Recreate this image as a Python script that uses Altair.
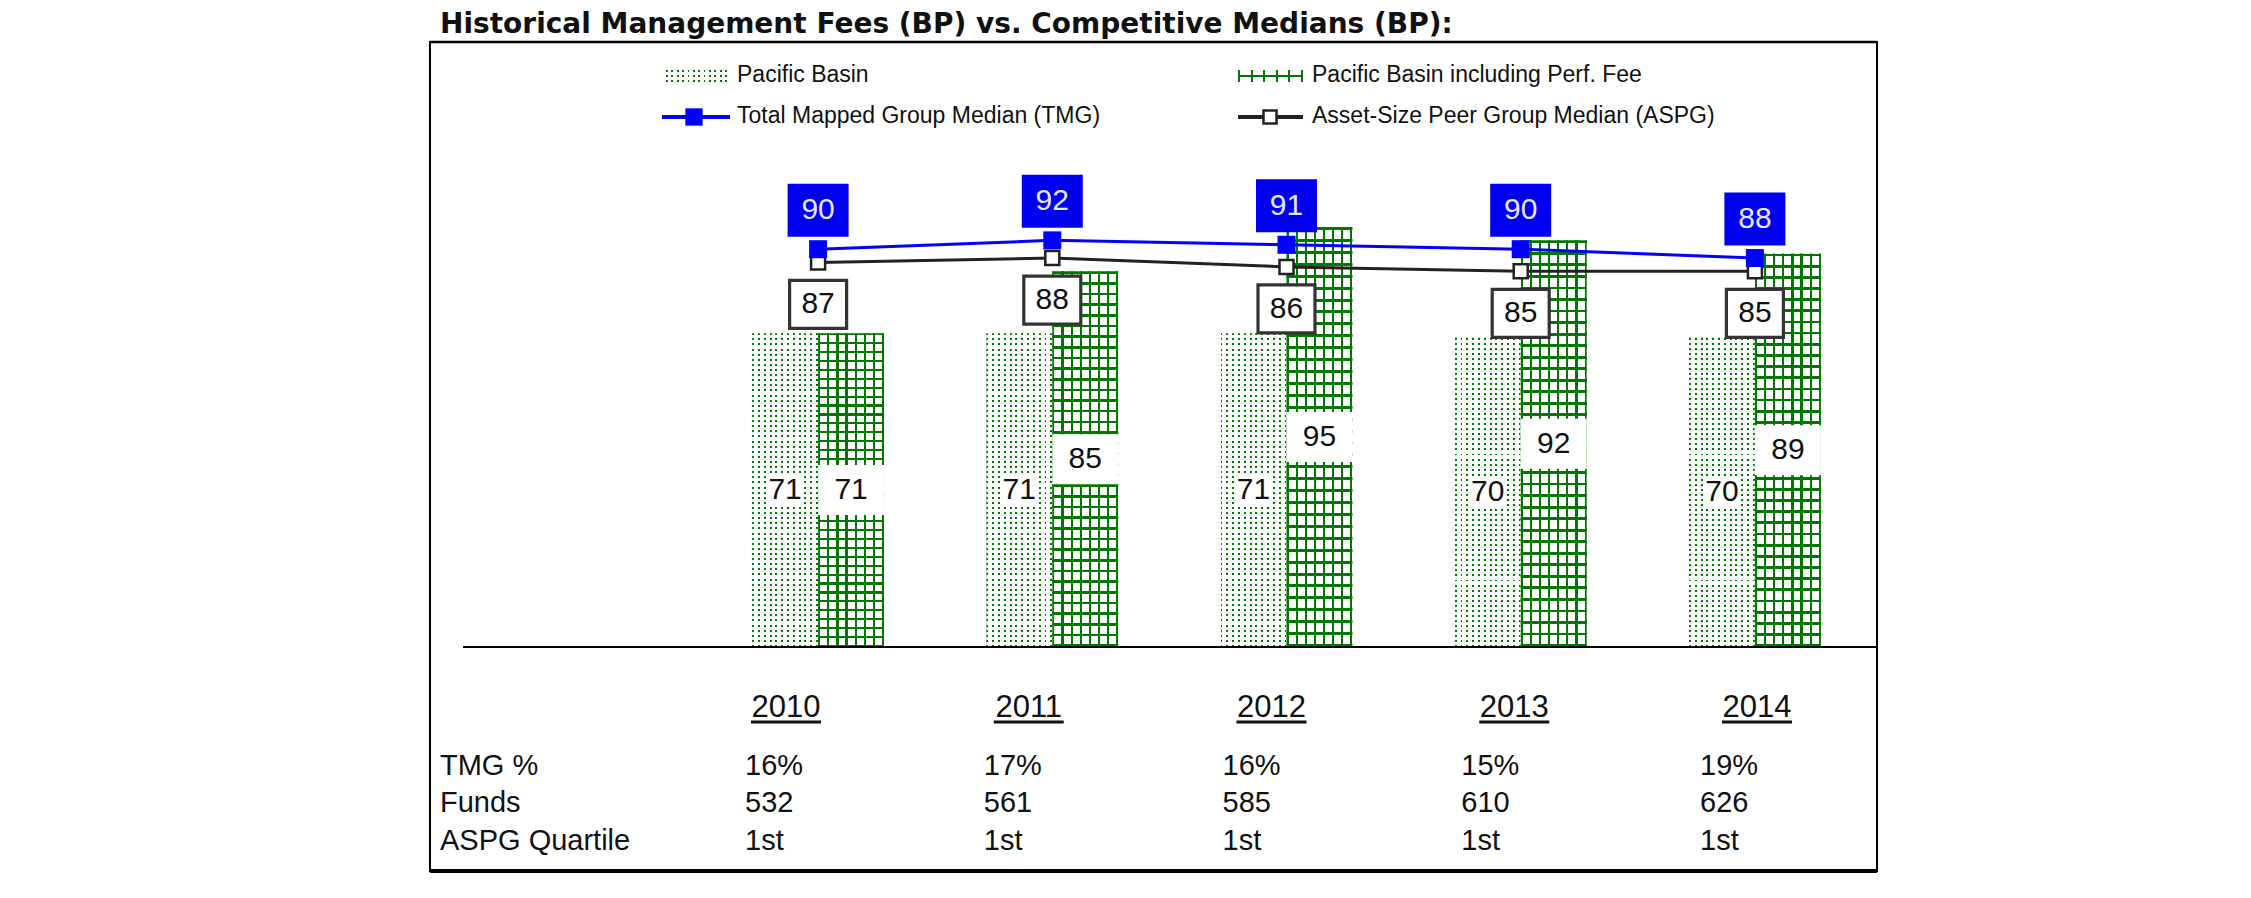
import altair as alt
import pandas as pd

# ---------------- data ----------------
years = ["2010", "2011", "2012", "2013", "2014"]
pacific = [71, 71, 71, 70, 70]
perf_fee = [71, 85, 95, 92, 89]
tmg_median = [90, 92, 91, 90, 88]
aspg_median = [87, 88, 86, 85, 85]
tmg_pct = ["16%", "17%", "16%", "15%", "19%"]
funds = ["532", "561", "585", "610", "626"]
aspg_quartile = ["1st", "1st", "1st", "1st", "1st"]
series_names = ["Pacific Basin", "Pacific Basin including Perf. Fee"]
line_names = ["Total Mapped Group Median (TMG)", "Asset-Size Peer Group Median (ASPG)"]
row_labels = ["TMG %", "Funds", "ASPG Quartile"]
title_text = "Historical Management Fees (BP) vs. Competitive Medians (BP):"

bars = pd.DataFrame({
    "year": years * 2,
    "series": [series_names[0]] * 5 + [series_names[1]] * 5,
    "value": pacific + perf_fee,
})
lines = pd.DataFrame({"year": years, "tmg": tmg_median, "aspg": aspg_median})
table = pd.DataFrame({"year": years, "tmg_pct": tmg_pct, "funds": funds,
                      "quartile": aspg_quartile})

# ---------------- styles ----------------
GREEN = "#007800"
BLUE = "#0000ff"
DARK = "#222222"
TXT = "#111111"
CLEAR = "rgba(255,255,255,0)"
NUM_FONT = "Liberation Sans"
BW = 66          # width of one bar
HALF = BW / 2    # offset of each bar from the group centre


def stripes(n, thick, on, off, direction):
    stops = [{"offset": 0, "color": off}]
    for i in range(n):
        a = (1 - thick) * i / (n - 1)
        b = a + thick
        stops += [{"offset": round(a, 5), "color": off},
                  {"offset": round(a, 5), "color": on},
                  {"offset": round(b, 5), "color": on},
                  {"offset": round(b, 5), "color": off}]
    stops.append({"offset": 1, "color": off})
    g = {"gradient": "linear", "stops": stops}
    if direction == "x":
        g.update(x1=0, y1=0, x2=1, y2=0)
    else:
        g.update(x1=0, y1=0, x2=0, y2=1)
    return g


def box(w, h):
    r = w / h
    return f"M{-r:.4f},-1H{r:.4f}V1H{-r:.4f}Z", h * h


# group centres (band scale)
X = alt.X("year:N", axis=None,
          scale=alt.Scale(domain=years, range=[271, 1442],
                          paddingInner=0.4365, paddingOuter=0.21825))
# year headings and table columns sit on their own point scales
X_YEAR = alt.X("year:N", axis=None,
               scale=alt.Scale(type="point", domain=years, range=[356, 1327], padding=0))
X_TAB = alt.X("year:N", axis=None,
              scale=alt.Scale(type="point", domain=years, range=[315, 1270], padding=0))
YS = alt.Scale(domain=[0, 100], range=[605, 163], nice=False, zero=True)

base_bars = alt.Chart(bars)
pac = base_bars.transform_filter(alt.datum.series == series_names[0])
prf = base_bars.transform_filter(alt.datum.series == series_names[1])
yv = alt.Y("value:Q", scale=YS, axis=None)

layers = []
# Pacific Basin: dotted (left bar of each group)
layers.append(pac.mark_bar(fill=stripes(12, 0.03, GREEN, "white", "x"), opacity=1,
                           width=BW, xOffset=-HALF)
              .encode(x=X, y=yv))
layers.append(pac.mark_bar(fill=stripes(62, 0.0064, CLEAR, "white", "y"), opacity=1,
                           width=BW, xOffset=-HALF)
              .encode(x=X, y=yv))
# Perf fee: grid (right bar)
layers.append(prf.mark_bar(fill=stripes(36, 0.007, GREEN, "white", "y"), opacity=1,
                           width=BW, xOffset=HALF)
              .encode(x=X, y=yv))
layers.append(prf.mark_bar(fill=stripes(8, 0.033, GREEN, CLEAR, "x"), opacity=1,
                           width=BW, xOffset=HALF)
              .encode(x=X, y=yv))

# labels inside bars
ymid = alt.Y("mid:Q", scale=YS, axis=None)
shp, sz = box(BW, 50)
layers.append(prf.transform_calculate(mid="datum.value/2")
              .mark_point(shape=shp, size=sz, filled=True, fill="white", opacity=1,
                          xOffset=HALF)
              .encode(x=X, y=ymid))
shp, sz = box(37, 28)
layers.append(pac.transform_calculate(mid="datum.value/2")
              .mark_point(shape=shp, size=sz, filled=True, fill="white", opacity=1,
                          xOffset=-HALF)
              .encode(x=X, y=ymid))
layers.append(pac.transform_calculate(mid="datum.value/2")
              .mark_text(font=NUM_FONT, fontSize=30, color=TXT, baseline="middle",
                         dx=-HALF)
              .encode(x=X, y=ymid, text="value:Q"))
layers.append(prf.transform_calculate(mid="datum.value/2")
              .mark_text(font=NUM_FONT, fontSize=30, color=TXT, baseline="middle",
                         dx=HALF)
              .encode(x=X, y=ymid, text="value:Q"))

# lines
ln = alt.Chart(lines)
yt = alt.Y("tmg:Q", scale=YS, axis=None)
ya = alt.Y("aspg:Q", scale=YS, axis=None)
layers.append(ln.mark_line(color=DARK, strokeWidth=3).encode(x=X, y=ya))
layers.append(ln.mark_line(color=BLUE, strokeWidth=3).encode(x=X, y=yt))
layers.append(ln.mark_point(shape="square", size=196, filled=True, fill="white",
                            stroke=DARK, strokeWidth=2.5, opacity=1).encode(x=X, y=ya))
layers.append(ln.mark_point(shape="square", size=324, filled=True, fill=BLUE,
                            opacity=1).encode(x=X, y=yt))
# TMG labels
shp, sz = box(61, 53)
layers.append(ln.mark_point(shape=shp, size=sz, filled=True, fill="#0000f0",
                            opacity=1, yOffset=-39).encode(x=X, y=yt))
layers.append(ln.mark_text(font=NUM_FONT, fontSize=30, color="#e6e6ff",
                           baseline="middle", dy=-39).encode(x=X, y=yt, text="tmg:Q"))
# ASPG labels
shp, sz = box(57, 48)
layers.append(ln.mark_point(shape=shp, size=sz, filled=True, fill="white",
                            stroke="#333333", strokeWidth=3.2, opacity=1, yOffset=42)
              .encode(x=X, y=ya))
layers.append(ln.mark_text(font=NUM_FONT, fontSize=30, color=TXT,
                           baseline="middle", dy=42).encode(x=X, y=ya, text="aspg:Q"))

# baseline
one = alt.Chart(pd.DataFrame({"k": [0]}))
layers.append(one.mark_rule(color="black", strokeWidth=2)
              .encode(y=alt.datum(0), x=alt.value(33), x2=alt.value(1447)))
# box top / bottom borders
layers.append(one.mark_rule(color="black", strokeWidth=2.5)
              .encode(y=alt.value(0), x=alt.value(0), x2=alt.value(1447)))
layers.append(one.mark_rule(color="black", strokeWidth=4)
              .encode(y=alt.value(829), x=alt.value(0), x2=alt.value(1447)))

# title
layers.append(alt.Chart(pd.DataFrame({"t": [title_text]}))
              .mark_text(font="DejaVu Sans", fontWeight="bold", fontSize=28, color=TXT,
                         align="left", baseline="alphabetic")
              .encode(x=alt.value(10), y=alt.value(-9), text="t:N"))

# years + underline
tb = alt.Chart(table)
layers.append(tb.mark_text(font=NUM_FONT, fontSize=31, color=TXT, baseline="alphabetic")
              .encode(x=X_YEAR, y=alt.value(675), text="year:N"))
layers.append(tb.mark_tick(orient="horizontal", size=70, thickness=3, color=TXT,
                           opacity=1)
              .encode(x=X_YEAR, y=alt.value(680)))

# table rows
row_y = [733, 770, 808]
for fld, yy, lab in zip(["tmg_pct", "funds", "quartile"], row_y, row_labels):
    layers.append(tb.mark_text(font=NUM_FONT, fontSize=29, color=TXT, align="left",
                               baseline="alphabetic")
                  .encode(x=X_TAB, y=alt.value(yy), text=f"{fld}:N"))
    layers.append(alt.Chart(pd.DataFrame({"lab": [lab]}))
                  .mark_text(font=NUM_FONT, fontSize=29, color=TXT, align="left",
                             baseline="alphabetic")
                  .encode(x=alt.value(10), y=alt.value(yy), text="lab:N"))

# legend
def legend_text(label, x, y):
    return (alt.Chart(pd.DataFrame({"lab": [label]}))
            .mark_text(font=NUM_FONT, fontSize=23, color=TXT, align="left",
                       baseline="alphabetic")
            .encode(x=alt.value(x), y=alt.value(y), text="lab:N"))

layers.append(one.mark_rect(fill=stripes(12, 0.03, GREEN, "white", "x"))
              .encode(x=alt.value(236), x2=alt.value(297), y=alt.value(28), y2=alt.value(40)))
layers.append(one.mark_rect(fill=stripes(3, 0.17, CLEAR, "white", "y"))
              .encode(x=alt.value(236), x2=alt.value(297), y=alt.value(28), y2=alt.value(40)))
layers.append(legend_text(series_names[0], 307, 40))

layers.append(one.mark_rect(fill=stripes(6, 0.035, GREEN, CLEAR, "x"))
              .encode(x=alt.value(808), x2=alt.value(873), y=alt.value(28), y2=alt.value(40)))
layers.append(one.mark_rule(color=GREEN, strokeWidth=2)
              .encode(x=alt.value(808), x2=alt.value(873), y=alt.value(34)))
layers.append(legend_text(series_names[1], 882, 40))

layers.append(one.mark_rule(color=BLUE, strokeWidth=4)
              .encode(x=alt.value(232), x2=alt.value(300), y=alt.value(75)))
layers.append(one.mark_point(shape="square", size=300, filled=True, fill=BLUE, opacity=1)
              .encode(x=alt.value(264), y=alt.value(75)))
layers.append(legend_text(line_names[0], 307, 81))

layers.append(one.mark_rule(color=DARK, strokeWidth=4)
              .encode(x=alt.value(808), x2=alt.value(873), y=alt.value(75)))
layers.append(one.mark_point(shape="square", size=170, filled=True, fill="white",
                             stroke=DARK, strokeWidth=2.5, opacity=1)
              .encode(x=alt.value(840), y=alt.value(75)))
layers.append(legend_text(line_names[1], 882, 81))

chart = (alt.layer(*layers)
         .resolve_scale(x="independent")
         .properties(width=1447, height=829,
                     padding={"left": 422, "top": 34, "right": 300, "bottom": 20},
                     autosize=alt.AutoSizeParams(type="none"))
         .configure_view(stroke="black", strokeWidth=2)
         .configure_axis(disable=True))

chart.save("out.html", embed_options={"renderer": "svg", "actions": False})
